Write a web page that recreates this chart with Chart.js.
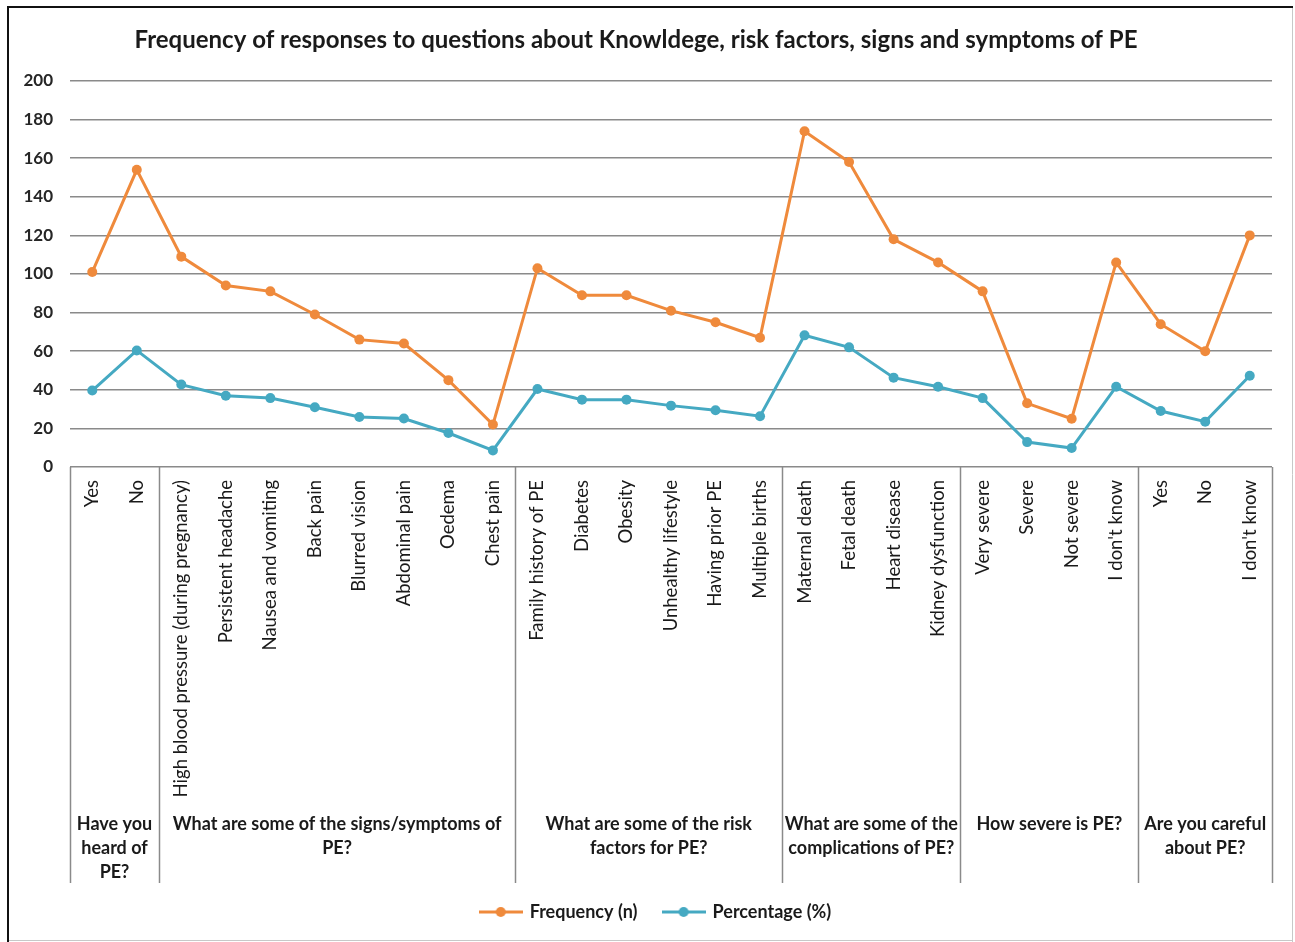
<!DOCTYPE html>
<html>
<head>
<meta charset="utf-8">
<title>Frequency of responses about PE</title>
<script src="https://cdn.jsdelivr.net/npm/chart.js@4.4.1/dist/chart.umd.min.js"></script>
<style>
  html, body { margin: 0; padding: 0; background: #ffffff; }
  #wrap { position: relative; width: 1295px; height: 942px; }
  canvas { display: block; }
</style>
</head>
<body>
<div id="wrap"><canvas id="chart" width="1295" height="942"></canvas></div>
<script>
// Response options, in the order they were asked
const categories = [
  'Yes', 'No',
  'High blood pressure (during pregnancy)', 'Persistent headache', 'Nausea and vomiting',
  'Back pain', 'Blurred vision', 'Abdominal pain', 'Oedema', 'Chest pain',
  'Family history of PE', 'Diabetes', 'Obesity', 'Unhealthy lifestyle',
  'Having prior PE', 'Multiple births',
  'Maternal death', 'Fetal death', 'Heart disease', 'Kidney dysfunction',
  'Very severe', 'Severe', 'Not severe', "I don't know",
  'Yes', 'No', "I don't know"
];

// Question each block of options belongs to (label lines + number of options)
const groupLines = [
  ['Have you', 'heard of', 'PE?'],
  ['What are some of the signs/symptoms of', 'PE?'],
  ['What are some of the risk', 'factors for PE?'],
  ['What are some of the', 'complications of PE?'],
  ['How severe is PE?'],
  ['Are you careful', 'about PE?']
];
const groupSizes = [2, 8, 6, 4, 4, 3];

const frequency = [
  101, 154,
  109, 94, 91, 79, 66, 64, 45, 22,
  103, 89, 89, 81, 75, 67,
  174, 158, 118, 106,
  91, 33, 25, 106,
  74, 60, 120
];
const percentage = [
  39.6, 60.4,
  42.7, 36.9, 35.7, 31.0, 25.9, 25.1, 17.6, 8.6,
  40.4, 34.9, 34.9, 31.8, 29.4, 26.3,
  68.2, 62.0, 46.3, 41.6,
  35.7, 12.9, 9.8, 41.6,
  29.0, 23.5, 47.3
];

const yTicks = [0, 20, 40, 60, 80, 100, 120, 140, 160, 180, 200];

const ORANGE = '#EF8A3C';
const TEAL = '#45A9C2';
const FONT = 'Lato, "Open Sans", "DejaVu Sans", sans-serif';

// Line-with-dot swatch used in the legend
function legendSwatch(color) {
  const c = document.createElement('canvas');
  c.width = 44; c.height = 12;
  const g = c.getContext('2d');
  g.strokeStyle = color; g.lineWidth = 3;
  g.beginPath(); g.moveTo(0, 6); g.lineTo(44, 6); g.stroke();
  g.fillStyle = color;
  g.beginPath(); g.arc(22, 6, 5, 0, Math.PI * 2); g.fill();
  return c;
}
const swatches = [legendSwatch(ORANGE), legendSwatch(TEAL)];

const AXIS_BAND = 416; // depth of the category box under the plot

// Question blocks: separators and wrapped question labels under the x axis
const groupPlugin = {
  id: 'questionGroups',
  afterLayout(chart) {
    // nudge the legend row to the right of the centre line
    if (chart.legend) { chart.legend.left += 20; chart.legend.right += 20; }
  },
  afterDraw(chart) {
    const x = chart.scales.x;
    const area = chart.chartArea;
    const ctx = chart.ctx;
    const half = (x.getPixelForValue(1) - x.getPixelForValue(0)) / 2;
    const top = area.bottom;
    const bottom = area.bottom + AXIS_BAND;
    ctx.save();
    ctx.strokeStyle = '#8a8a8a';
    ctx.lineWidth = 1.5;
    let start = 0;
    const edges = [x.getPixelForValue(0) - half];
    groupSizes.forEach(n => {
      start += n;
      edges.push(x.getPixelForValue(start - 1) + half);
    });
    edges.forEach(px => {
      ctx.beginPath();
      ctx.moveTo(Math.round(px) + 0.5, top);
      ctx.lineTo(Math.round(px) + 0.5, bottom);
      ctx.stroke();
    });
    ctx.fillStyle = '#1a1a1a';
    ctx.font = 'bold 18px ' + FONT;
    ctx.textAlign = 'center';
    ctx.textBaseline = 'middle';
    groupLines.forEach((lines, i) => {
      const cx = (edges[i] + edges[i + 1]) / 2;
      lines.forEach((t, j) => ctx.fillText(t, cx, top + 357 + j * 24));
    });
    ctx.restore();
  }
};

// Outer frame of the figure
const framePlugin = {
  id: 'frame',
  afterDraw(chart) {
    const ctx = chart.ctx;
    ctx.save();
    ctx.strokeStyle = '#c8c8c8';
    ctx.lineWidth = 1;
    ctx.beginPath();
    ctx.moveTo(1292.5, 7); ctx.lineTo(1292.5, 942);
    ctx.moveTo(9, 940.5); ctx.lineTo(1293, 940.5);
    ctx.stroke();
    ctx.strokeStyle = '#111111';
    ctx.lineWidth = 2;
    ctx.beginPath();
    ctx.moveTo(8, 942); ctx.lineTo(8, 7); ctx.lineTo(1293, 7);
    ctx.stroke();
    ctx.restore();
  }
};

const baseLabels = Chart.defaults.plugins.legend.labels.generateLabels;

new Chart(document.getElementById('chart'), {
  type: 'line',
  data: {
    labels: categories,
    datasets: [
      {
        label: 'Frequency (n)',
        data: frequency,
        borderColor: ORANGE,
        backgroundColor: ORANGE,
        borderWidth: 3,
        pointRadius: 5,
        pointBorderWidth: 0,
        tension: 0
      },
      {
        label: 'Percentage (%)',
        data: percentage,
        borderColor: TEAL,
        backgroundColor: TEAL,
        borderWidth: 3,
        pointRadius: 5,
        pointBorderWidth: 0,
        tension: 0
      }
    ]
  },
  options: {
    responsive: false,
    animation: false,
    devicePixelRatio: 1,
    layout: { padding: { left: 0, right: 23, top: 0, bottom: 11 } },
    plugins: {
      title: {
        display: true,
        text: 'Frequency of responses to questions about Knowldege, risk factors, signs and symptoms of PE',
        color: '#1a1a1a',
        font: { family: FONT, size: 24, weight: 'bold', lineHeight: 1.2 },
        padding: { top: 25.6, bottom: 26.6 }
      },
      legend: {
        position: 'bottom',
        labels: {
          usePointStyle: true,
          pointStyleWidth: 40,
          boxHeight: 12,
          padding: 26,
          color: '#1a1a1a',
          font: { family: FONT, size: 18, weight: 'bold' },
          generateLabels(chart) {
            return baseLabels(chart).map((item, i) => {
              item.pointStyle = swatches[i];
              item.rotation = 0;
              return item;
            });
          }
        }
      },
      tooltip: { enabled: false }
    },
    scales: {
      x: {
        type: 'category',
        offset: true,
        grid: { display: false },
        border: { display: false },
        ticks: {
          autoSkip: false,
          maxRotation: 90,
          minRotation: 90,
          padding: 5,
          color: '#1a1a1a',
          font: { family: FONT, size: 18.5 }
        },
        afterFit(scale) { scale.height = 410; }
      },
      y: {
        min: 0,
        max: 200,
        grid: { color: '#8a8a8a', lineWidth: 1.5, drawTicks: false },
        border: { display: false },
        afterBuildTicks(scale) { scale.ticks = yTicks.map(v => ({ value: v })); },
        ticks: {
          padding: 17,
          color: '#262626',
          font: { family: FONT, size: 17, weight: 'bold' }
        },
        afterFit(scale) { scale.width = 70; }
      }
    }
  },
  plugins: [groupPlugin, framePlugin]
});
</script>
</body>
</html>
